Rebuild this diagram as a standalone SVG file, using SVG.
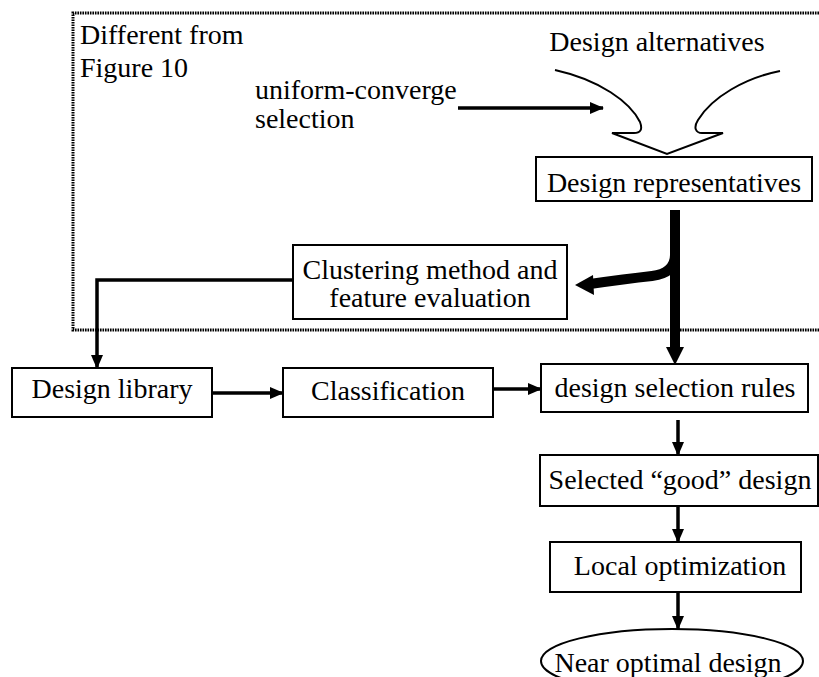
<svg xmlns="http://www.w3.org/2000/svg" width="819" height="677" viewBox="0 0 819 677">
  <style>
    text { font-family: "Liberation Serif", "DejaVu Serif", "Noto Serif", serif; font-size: 28px; fill: #000; }
    .mid { text-anchor: middle; }
    .box { fill: #fff; stroke: #000; stroke-width: 2; }
    .link { fill: none; stroke: #000; stroke-width: 3.5; }
    .bold { fill: none; stroke: #000; stroke-width: 10; }
    .frame { fill: none; stroke: #000; stroke-width: 3; stroke-dasharray: 1.6 0.9; }
  </style>
  <defs>
    <marker id="arr" markerUnits="userSpaceOnUse" viewBox="0 0 14 14" refX="13" refY="7" markerWidth="14" markerHeight="14" orient="auto">
      <path d="M0,1 L14,7 L0,13 Z" fill="#000"/>
    </marker>
  </defs>

  <!-- dotted region boundary -->
  <path class="frame" d="M819,13 L73,13 L73,330 L819,330"/>

  <g id="note">
    <text x="80" y="44" font-family="Liberation Serif, serif">Different from</text>
    <text x="80" y="77" font-family="Liberation Serif, serif">Figure 10</text>
  </g>

  <g id="uniform-label">
    <text x="255" y="99">uniform-converge</text>
    <text x="255" y="128">selection</text>
  </g>

  <g id="design-alternatives">
    <text x="657" y="51" class="mid">Design alternatives</text>
  </g>

  <g id="design-representatives">
    <rect class="box" x="536" y="157" width="276" height="44"/>
    <text x="674" y="192" class="mid">Design representatives</text>
  </g>

  <g id="clustering">
    <rect class="box" x="293" y="245" width="274" height="74"/>
    <text x="430" y="279" class="mid">Clustering method and</text>
    <text x="430" y="307" class="mid">feature evaluation</text>
  </g>

  <g id="design-library">
    <rect class="box" x="12" y="368" width="200" height="49"/>
    <text x="112" y="398" class="mid">Design library</text>
  </g>

  <g id="classification">
    <rect class="box" x="283" y="368" width="210" height="49"/>
    <text x="388" y="400" class="mid">Classification</text>
  </g>

  <g id="selection-rules">
    <rect class="box" x="541" y="364" width="267" height="48"/>
    <text x="675" y="397" class="mid">design selection rules</text>
  </g>

  <g id="selected-design">
    <rect class="box" x="540" y="455" width="278" height="51"/>
    <text x="680" y="489" class="mid">Selected “good” design</text>
  </g>

  <g id="local-optimization">
    <rect class="box" x="550" y="542" width="251" height="50"/>
    <text x="680" y="575" class="mid">Local optimization</text>
  </g>

  <g id="near-optimal">
    <ellipse class="box" cx="672" cy="661" rx="131" ry="32"/>
    <text x="668" y="672" class="mid">Near optimal design</text>
  </g>

  <g id="connectors">
    <!-- converging outline arrow -->
    <path fill="none" stroke="#000" stroke-width="2" stroke-linejoin="miter"
          d="M555,70 C600,80 630,102 640,122 C643,130 640,133 634,133 L612,133 L667,154 L723,133 L702,133 C696,133 693,128 698,120 C712,97 745,78 780,71"/>
    <line class="link" x1="458" y1="108" x2="603" y2="108" marker-end="url(#arr)"/>

    <!-- thick trunk and branch -->
    <line class="bold" x1="675" y1="210" x2="675" y2="350"/>
    <path d="M666,347 L684,347 L675,365 Z" fill="#000"/>
    <path class="bold" d="M675,255 Q675,273 652,276 Q625,279 590,284"/>
    <path d="M575,285 L593,275 L594,295 Z" fill="#000"/>

    <!-- flow links -->
    <path class="link" d="M293,280 L97,280 L97,368" marker-end="url(#arr)"/>
    <line class="link" x1="212" y1="393" x2="283" y2="393" marker-end="url(#arr)"/>
    <line class="link" x1="493" y1="389" x2="541" y2="389" marker-end="url(#arr)"/>
    <line class="link" x1="678" y1="420" x2="678" y2="455" marker-end="url(#arr)"/>
    <line class="link" x1="678" y1="506" x2="678" y2="542" marker-end="url(#arr)"/>
    <line class="link" x1="678" y1="592" x2="678" y2="629" marker-end="url(#arr)"/>
  </g>
</svg>
